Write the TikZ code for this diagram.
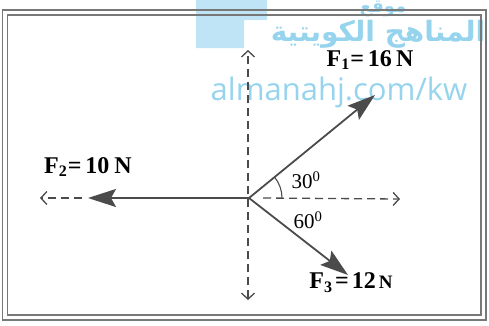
\documentclass[tikz,border=0pt]{standalone}
\usepackage{fontspec}
\setmainfont{Liberation Serif}
\newfontfamily\wmfont{Open Sans}
\newfontfamily\arabicfont[Script=Arabic]{DejaVu Sans}
\TeXXeTstate=1
\usetikzlibrary{arrows.meta}
\definecolor{wmblue}{RGB}{150,212,238}
\definecolor{wmbox}{RGB}{190,228,246}
\definecolor{framegray}{RGB}{120,120,120}
\definecolor{forcegray}{RGB}{75,75,75}
\newcommand\fsub[1]{\raisebox{-0.35ex}{\fontsize{16}{16}\selectfont #1}}
\tikzset{
  frameline/.style={draw=framegray,line width=1.4pt},
  axisline/.style={draw=forcegray,line width=1.3pt,dash pattern=on 8pt off 5pt},
  axistip/.style={-{Straight Barb[length=6pt,width=13pt,line width=1.3pt]}},
  force/.style={draw=forcegray,line width=1.8pt,-{Stealth[length=28pt,width=18pt,inset=5pt]}},
  lbl/.style={font=\fontsize{24}{24}\selectfont\bfseries,inner sep=0pt},
  anglbl/.style={font=\fontsize{21}{21}\selectfont,inner sep=0pt}
}
\begin{document}
\begin{tikzpicture}[x=1pt,y=-1pt]
\useasboundingbox (0,0) rectangle (489,325);
% watermark
\fill[wmbox] (196,0) -- (267,0) -- (267,20) -- (244,20) -- (244,48) -- (196,48) -- cycle;
\node[text=wmblue,inner sep=0pt,font=\arabicfont\bfseries\fontsize{18}{18}\selectfont] (wm1) at (383,9) {\beginR موقع\endR};
\node[text=wmblue,inner sep=0pt,font=\arabicfont\bfseries\fontsize{28}{28}\selectfont] (wm2) at (378,34) {\beginR المناهج الكويتية\endR};
\node[text=wmblue,inner sep=0pt,font=\wmfont\fontsize{31}{31}\selectfont] (wm3) at (339,92) {almanahj.com/kw};
% frame
\draw[frameline] (2.5,10) rectangle (486,320);
\draw[frameline] (7.5,15) rectangle (481,315);
% coordinates
\coordinate (O) at (249,198);
\coordinate (Up) at (248,50);
\coordinate (Down) at (248,300);
\coordinate (Rend) at (400,199);
\coordinate (Lend) at (40,198);
\coordinate (F2tip) at (88,198);
\coordinate (F1tip) at (375,95);
\coordinate (F3tip) at (348,275);
% axes
\draw[axisline,{Straight Barb[length=6pt,width=13pt,line width=1.3pt]}-{Straight Barb[length=6pt,width=13pt,line width=1.3pt]}] (Down) -- (Up);
\draw[axisline,axistip] ([xshift=14pt]O) -- (Rend);
\draw[axisline,axistip] ([xshift=-6pt]F2tip) -- (Lend);
% forces
\draw[force] (O) -- (F1tip);
\draw[force] (O) -- (F2tip);
\draw[force] (O) -- (F3tip);
% angle arc
\draw[forcegray,line width=1.1pt] (O) ++(0:33) arc[start angle=0,end angle=-39,radius=33];
% labels
\node[lbl] (l1) at (370,60) {F\fsub{1}\kern1pt=\hspace{4pt}16\hspace{4pt}N};
\node[lbl] (l2) at (88,167) {F\fsub{2}\kern1pt=\hspace{4pt}10\hspace{5pt}N};
\node[lbl] (l3) at (351,283) {F\fsub{3}\hspace{3pt}=\hspace{3pt}12\hspace{3pt}{\fontsize{19}{19}\selectfont N}};
\node[anglbl] (a1) at (306,180) {30\textsuperscript{0}};
\node[anglbl] (a2) at (308,220) {60\textsuperscript{0}};
\end{tikzpicture}
\end{document}
